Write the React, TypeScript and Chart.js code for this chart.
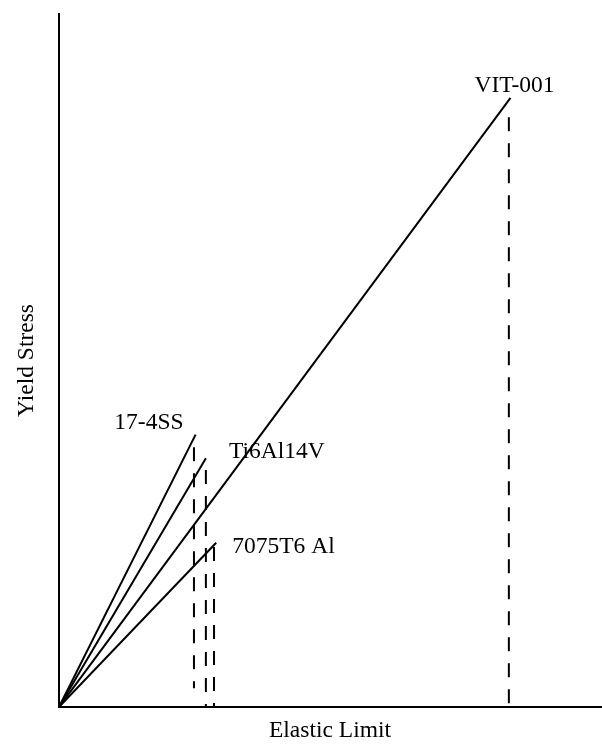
import React, { useEffect, useRef } from "react";
import { Chart, registerables } from "chart.js";

Chart.register(...registerables);

// ---- data ----
const materials = ["17-4SS", "Ti6Al14V", "7075T6 Al", "VIT-001"];
const elasticLimit = [25.2, 27.1, 29.0, 83.3];
const yieldStress = [39.3, 35.9, 23.7, 87.9];
const dashX = [24.9, 27.1, 28.6, 83.0];
const dashTop = [37.5, 34.2, 23.1, 85.1];
const dashBottom = [2.7, 0, 0, 0];
const xTitle = "Elastic Limit";
const yTitle = "Yield Stress";

// ---- label placement (pixels relative to each line's end) ----
const labelPlacement = [
  { dx: -12, dy: -6, align: "right" },
  { dx: 23, dy: 0, align: "left" },
  { dx: 16, dy: 10, align: "left" },
  { dx: -36, dy: -6, align: "left" },
];

const FONT = "'Liberation Serif', 'Times New Roman', serif";
const FS = 23.5;

const labelPlugin = {
  id: "endLabels",
  afterDatasetsDraw(chart: any) {
    const { ctx, scales } = chart;
    const xs = scales.x;
    const ys = scales.y;
    ctx.save();
    ctx.font = `${FS}px ${FONT}`;
    ctx.fillStyle = "#000";
    ctx.textBaseline = "alphabetic";
    materials.forEach((name, i) => {
      const px = xs.getPixelForValue(elasticLimit[i]);
      const py = ys.getPixelForValue(yieldStress[i]);
      const p = labelPlacement[i];
      ctx.textAlign = p.align as CanvasTextAlign;
      ctx.fillText(name, px + p.dx, py + p.dy);
    });
    ctx.restore();
  },
};

export default function App() {
  const ref = useRef<HTMLCanvasElement | null>(null);

  useEffect(() => {
    if (!ref.current) return;
    const solid = materials.map((name, i) => ({
      label: name,
      data: [
        { x: 0, y: 0 },
        { x: elasticLimit[i], y: yieldStress[i] },
      ],
      showLine: true,
      borderColor: "#000",
      borderWidth: 2,
      pointRadius: 0,
      tension: 0,
    }));
    const dashed = materials.map((name, i) => ({
      label: name + " limit",
      data: [
        { x: dashX[i], y: dashTop[i] },
        { x: dashX[i], y: dashBottom[i] },
      ],
      showLine: true,
      borderColor: "#000",
      borderWidth: 2,
      borderDash: [14, 12],
      pointRadius: 0,
      tension: 0,
    }));

    const chart = new Chart(ref.current, {
      type: "scatter",
      data: { datasets: [...solid, ...dashed] as any },
      options: {
        animation: false,
        responsive: true,
        maintainAspectRatio: false,
        layout: { padding: { top: 14, right: 1, left: 0, bottom: 0 } },
        plugins: {
          legend: { display: false },
          tooltip: { enabled: false },
        },
        scales: {
          x: {
            type: "linear",
            min: 0,
            max: 100,
            grid: { display: false, drawTicks: false },
            border: { display: true, color: "#000", width: 2 },
            ticks: { display: false },
            title: {
              display: true,
              text: xTitle,
              color: "#000",
              font: { family: FONT, size: FS },
              padding: { top: 0, bottom: 0 },
            },
            afterFit: (s: any) => {
              s.height = 38;
            },
          },
          y: {
            type: "linear",
            min: 0,
            max: 100,
            grid: { display: false, drawTicks: false },
            border: { display: true, color: "#000", width: 2 },
            ticks: { display: false },
            title: {
              display: true,
              text: yTitle,
              color: "#000",
              font: { family: FONT, size: FS },
              padding: { top: 13, bottom: 0 },
            },
            afterFit: (s: any) => {
              s.width = 59;
            },
          },
        },
      },
      plugins: [labelPlugin],
    });
    return () => chart.destroy();
  }, []);

  return (
    <div
      style={{
        position: "fixed",
        left: 0,
        top: 0,
        width: 602,
        height: 745,
        background: "#fff",
      }}
    >
      <canvas ref={ref} />
    </div>
  );
}
